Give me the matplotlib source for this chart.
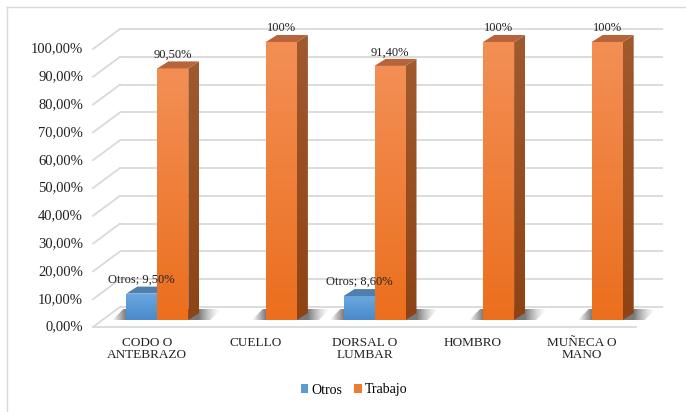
import numpy as np
import matplotlib
matplotlib.use("Agg")
import matplotlib.pyplot as plt
from matplotlib.patches import Polygon, Patch
from matplotlib.lines import Line2D
from matplotlib.colors import to_rgb

# ---------------- data ----------------
categories = ["CODO O\nANTEBRAZO", "CUELLO", "DORSAL O\nLUMBAR", "HOMBRO", "MUÑECA O\nMANO"]
otros = [9.5, 0.0, 8.6, 0.0, 0.0]
trabajo = [90.5, 100.0, 91.4, 100.0, 100.0]
otros_labels = ["Otros; 9,50%", "", "Otros; 8,60%", "", ""]
trabajo_labels = ["90,50%", "100%", "91,40%", "100%", "100%"]
y_ticks = [0, 10, 20, 30, 40, 50, 60, 70, 80, 90, 100]
y_tick_labels = ["0,00%", "10,00%", "20,00%", "30,00%", "40,00%", "50,00%",
                 "60,00%", "70,00%", "80,00%", "90,00%", "100,00%"]
series_names = ["Otros", "Trabajo"]

# ---------------- style ----------------
FONT = "Liberation Serif"
W, H = 686, 412
PX_CAT = 108.6     # pixels per category
PX_PCT = 2.78      # pixels per percent
def dx(p): return p / PX_CAT
def dy(p): return p / PX_PCT

BAR_W = dx(31)
DX_B, DY_B = dx(10), dy(7)      # front plane -> bar plane
DX_W, DY_W = dx(27), dy(20)     # front plane -> back wall
DX_D, DY_D = dx(11), dy(7)      # bar depth
GRID = "#D9D9D9"
TXT = "#222222"

colors = {
    "Otros": dict(top="#6BA8E0", bot="#4A89CA", side="#3F6F9E", cap="#4F7FAE", leg="#5B9BD5"),
    "Trabajo": dict(top="#F38F55", bot="#EB6F1E", side_top="#A05A2E", side_bot="#8E4314",
                    cap="#B8643A", leg="#ED7D31"),
}

fig = plt.figure(figsize=(W / 100, H / 100), dpi=100)
ax = fig.add_axes([60 / W, (H - 340) / H, (W - 60) / W, 330 / H])
ax.axis("off")

# outer chart frame (top and left edges visible)
fig.lines.append(Line2D([6.5 / W, 1.0], [1 - 6.5 / H, 1 - 6.5 / H],
                        transform=fig.transFigure, color=GRID, lw=1.0))
fig.lines.append(Line2D([6.5 / W, 6.5 / W], [0.0, 1 - 6.5 / H],
                        transform=fig.transFigure, color=GRID, lw=1.0))

n = len(categories)
x = np.arange(n)
left_edge, right_edge = -0.5, n - 0.5

# gridlines (back wall + left side wall)
for v in y_ticks:
    ax.plot([left_edge + DX_W, right_edge + DX_W], [v + DY_W, v + DY_W],
            color=GRID, lw=1.3, zorder=1, solid_capstyle="butt")
    ax.plot([left_edge, left_edge + DX_W], [v, v + DY_W], color=GRID, lw=1.3, zorder=1)
# floor front edge
ax.plot([left_edge, right_edge], [0, 0], color=GRID, lw=1.3, zorder=1)

# tick labels
for v, lab in zip(y_ticks, y_tick_labels):
    ax.text(left_edge - dx(10), v, lab, ha="right", va="center",
            fontsize=10.5, family=FONT, color=TXT)

# category labels
for i, lab in enumerate(categories):
    ax.text(x[i], -dy(9.5), lab, ha="center", va="top", fontsize=9.5,
            family=FONT, color=TXT, linespacing=1.05)


def grad_poly(verts, c_top, c_bot, zorder):
    poly = Polygon(verts, closed=True, facecolor="none", edgecolor="none", zorder=zorder)
    ax.add_patch(poly)
    xs = [p[0] for p in verts]
    ys = [p[1] for p in verts]
    t = np.linspace(0, 1, 64)[:, None]
    ct, cb = np.array(to_rgb(c_top)), np.array(to_rgb(c_bot))
    img = (ct * (1 - t) + cb * t)[:, None, :]
    im = ax.imshow(img, extent=(min(xs), max(xs), min(ys), max(ys)), origin="upper",
                   aspect="auto", zorder=zorder, interpolation="bilinear")
    im.set_clip_path(poly)


def shadow(xl, xr, zorder):
    y0 = DY_B
    fl, fr = dx(14), dx(22)
    up, sh = dy(11), dx(11)
    verts = [(xl - fl, y0), (xr + fr, y0), (xr + fr + sh, y0 + up), (xl - fl + sh, y0 + up)]
    poly = Polygon(verts, closed=True, facecolor="none", edgecolor="none")
    ax.add_patch(poly)
    x0, x1 = xl - fl, xr + fr + sh
    xs = np.linspace(x0, x1, 200)
    amax = 0.7
    a = np.ones_like(xs) * amax
    a = np.where(xs < xl, amax * (xs - x0) / (xl - x0), a)
    a = np.where(xs > xr + DX_D, amax * np.clip((x1 - xs) / (x1 - xr - DX_D), 0, 1) ** 1.5, a)
    img = np.zeros((1, len(xs), 4))
    img[..., :3] = 0.25
    img[0, :, 3] = a
    im = ax.imshow(img, extent=(x0, x1, y0, y0 + up), origin="upper", aspect="auto",
                   zorder=zorder, interpolation="bilinear")
    im.set_clip_path(poly)


def bar3d(xl, v, c, zorder, side=True):
    xr = xl + BAR_W
    b = DY_B
    t = v + DY_B
    grad_poly([(xl, b), (xr, b), (xr, t), (xl, t)], c["top"], c["bot"], zorder)
    if side:
        grad_poly([(xr, b), (xr + DX_D, b + DY_D), (xr + DX_D, t + DY_D), (xr, t)],
                  c.get("side_top", c.get("side")), c.get("side_bot", c.get("side")), zorder)
    ax.add_patch(Polygon([(xl, t), (xr, t), (xr + DX_D, t + DY_D), (xl + DX_D, t + DY_D)],
                         closed=True, facecolor=c["cap"], edgecolor="none", zorder=zorder))


for i in range(n):
    cb = x[i] + DX_B
    xl = cb - BAR_W if otros[i] > 0 else cb
    xr = cb + BAR_W if trabajo[i] > 0 else cb
    shadow(xl, xr, 2)
    if otros[i] > 0:
        bar3d(cb - BAR_W, otros[i], colors["Otros"], 3)
        ax.text(cb - BAR_W / 2, otros[i] + DY_B + DY_D + dy(7), otros_labels[i],
                ha="center", va="center", fontsize=9, family=FONT, color=TXT, zorder=10)
    if trabajo[i] > 0:
        bar3d(cb, trabajo[i], colors["Trabajo"], 4)
        ax.text(cb + BAR_W / 2, trabajo[i] + DY_B + DY_D + dy(6.5), trabajo_labels[i],
                ha="center", va="center", fontsize=9, family=FONT, color=TXT, zorder=10)

ax.set_xlim((60 - 147.3) / PX_CAT, (W - 147.3) / PX_CAT)
ax.set_ylim((327 - 340) / PX_PCT, (327 - 10) / PX_PCT)

handles = [Patch(facecolor=colors[s]["leg"], edgecolor="none", label=s) for s in series_names]
fig.legend(handles=handles, loc="center", bbox_to_anchor=(354 / W, 1 - 390 / H), ncol=2,
           frameon=False, prop={"family": FONT, "size": 10}, handlelength=0.55,
           handleheight=0.55, handletextpad=0.2, columnspacing=0.9)

fig.savefig("out.png", dpi=100)
